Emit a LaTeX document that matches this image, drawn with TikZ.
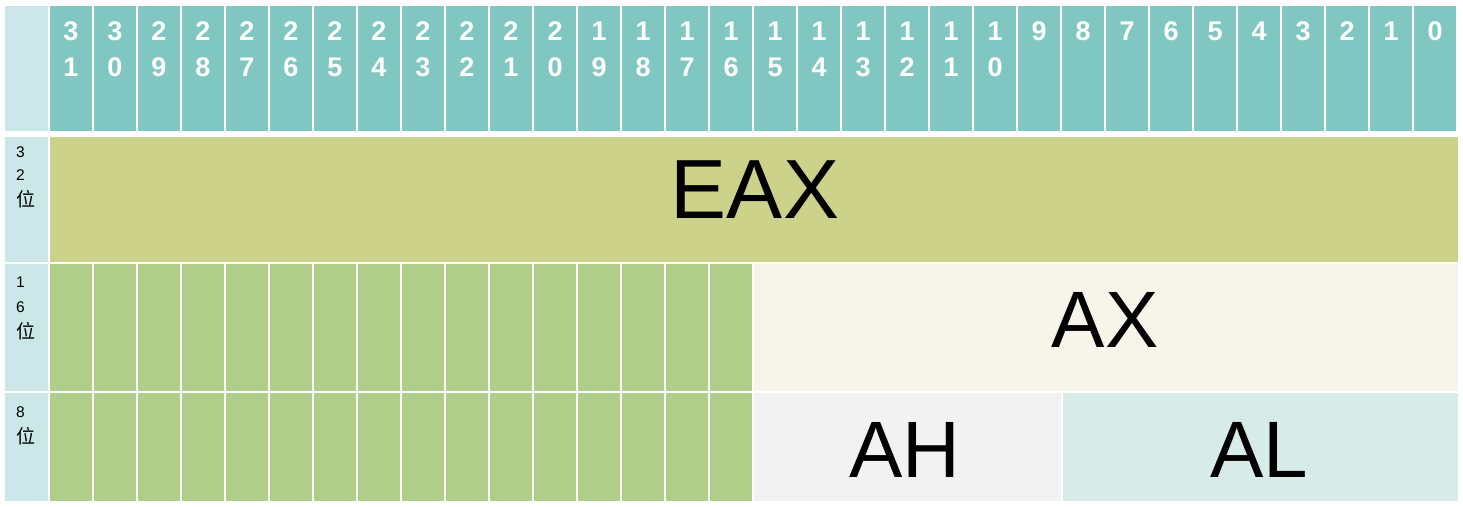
\documentclass[tikz,border=0pt]{standalone}
\usepackage{fontspec}
\setmainfont{Liberation Sans}
\newfontfamily\cjk{Noto Sans CJK SC}
\definecolor{hdr}{HTML}{80C6C1}
\definecolor{lab}{HTML}{CBE7E7}
\definecolor{eax}{HTML}{CDD28B}
\definecolor{grn}{HTML}{AECE8A}
\definecolor{axc}{HTML}{F7F4EA}
\definecolor{ahc}{HTML}{F2F2F2}
\definecolor{alc}{HTML}{D7EBE8}
\begin{document}
\begin{tikzpicture}[x=1pt,y=-1pt,
  cell/.style={draw=none,inner sep=0pt,outer sep=0pt,anchor=north west},
  digit/.style={anchor=base,inner sep=0pt,text=white,font=\fontsize{27}{32}\selectfont\bfseries},
  lbl/.style={anchor=base west,inner sep=0pt,font=\fontsize{15.5}{18}\selectfont},
  lblcjk/.style={anchor=base west,inner sep=0pt,font=\cjk\fontsize{19}{22}\selectfont},
  big/.style={anchor=base,inner sep=0pt,font=\fontsize{84}{90}\selectfont},
  bigb/.style={anchor=base,inner sep=0pt,font=\fontsize{80}{86}\selectfont}]
\useasboundingbox (0,0) rectangle (1463,506);
% header row
\node[cell,fill=lab,minimum width=43pt,minimum height=125pt] (h0) at (5,6) {};
\foreach \i in {0,...,31}{
  \pgfmathtruncatemacro{\b}{31-\i}
  \pgfmathtruncatemacro{\xx}{50+44*\i}
  \node[cell,fill=hdr,minimum width=42pt,minimum height=125pt] (hdr\i) at (\xx,6) {};
  \ifnum\b>9
    \pgfmathtruncatemacro{\t}{\b/10}
    \pgfmathtruncatemacro{\o}{mod(\b,10)}
    \node[digit] (dt\i) at (\xx+21,40) {\t};
    \node[digit] (do\i) at (\xx+21,76) {\o};
  \else
    \node[digit] (dt\i) at (\xx+21,40) {\b};
  \fi
}
% 32-bit row
\node[cell,fill=lab,minimum width=43pt,minimum height=125pt] (l32) at (5,137) {};
\node[lbl] (l32a) at (16,157) {3};
\node[lbl] (l32b) at (16,180) {2};
\node[lblcjk] (l32c) at (16,206) {位};
\node[cell,fill=eax,minimum width=1408pt,minimum height=125pt] (eaxcell) at (50,137) {};
\node[big] (eaxt) at (755,218) {EAX};
% 16-bit row
\node[cell,fill=lab,minimum width=43pt,minimum height=127pt] (l16) at (5,264) {};
\node[lbl] (l16a) at (16,287) {1};
\node[lbl] (l16b) at (16,312) {6};
\node[lblcjk] (l16c) at (16,338) {位};
\foreach \i in {0,...,15}{
  \pgfmathtruncatemacro{\xx}{50+44*\i}
  \node[cell,fill=grn,minimum width=42pt,minimum height=127pt] (g16\i) at (\xx,264) {};
}
\node[cell,fill=axc,minimum width=704pt,minimum height=127pt] (axcell) at (754,264) {};
\node[bigb] (axt) at (1105,347) {AX};
% 8-bit row
\node[cell,fill=lab,minimum width=43pt,minimum height=108pt] (l8) at (5,393) {};
\node[lbl] (l8a) at (16,417) {8};
\node[lblcjk] (l8b) at (16,443) {位};
\foreach \i in {0,...,15}{
  \pgfmathtruncatemacro{\xx}{50+44*\i}
  \node[cell,fill=grn,minimum width=42pt,minimum height=108pt] (g8\i) at (\xx,393) {};
}
\node[cell,fill=ahc,minimum width=307pt,minimum height=108pt] (ahcell) at (754,393) {};
\node[bigb] (aht) at (905,477) {AH};
\node[cell,fill=alc,minimum width=395pt,minimum height=108pt] (alcell) at (1063,393) {};
\node[bigb] (alt) at (1259,477) {AL};
\end{tikzpicture}
\end{document}
